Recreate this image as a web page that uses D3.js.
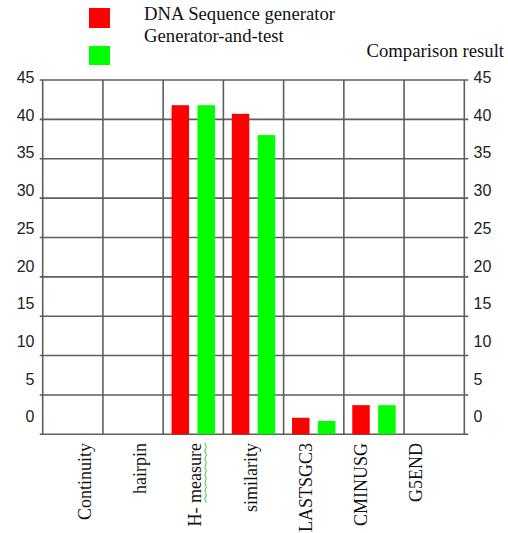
<!DOCTYPE html>
<html>
<head>
<meta charset="utf-8">
<script src="https://cdn.jsdelivr.net/npm/d3@7"></script>
<style>
  body { margin: 0; background: #fff; }
  .tick-label { font-family: "Liberation Sans", Arial, sans-serif; font-size: 16px; fill: #222; }
  .cat-label, .legend-text { font-family: "Liberation Serif", "Times New Roman", serif; fill: #111; }
</style>
</head>
<body>
<svg id="chart" width="508" height="533"></svg>
<script>
const categories = ["Continuity", "hairpin", "H- measure", "similarity", "LASTSGC3", "CMINUSG", "G5END"];
const seriesNames = ["DNA Sequence generator", "Generator-and-test"];
const dnaGenerator = [0, 0, 41.8, 40.7, 2.1, 3.7, 0];
const generatorAndTest = [0, 0, 41.8, 38.0, 1.7, 3.7, 0];
const yTicks = [0, 5, 10, 15, 20, 25, 30, 35, 40, 45];
const colors = ["#ff0000", "#00ff00"];

const svg = d3.select("svg#chart");

// plot area
const plotL = 42.7, plotR = 464.3, plotT = 80, plotB = 434.3;

const x = d3.scaleBand().domain(categories).range([plotL, plotR]).padding(0);
const sub = d3.scaleBand().domain(seriesNames).range([0, x.bandwidth()])
  .paddingInner(0.325).paddingOuter(0.325);
const y = d3.scaleLinear().domain([0, 45]).range([plotB, plotT]);

// the tick labels sit on their own (slightly tighter) scales, as in the original
const yLab = d3.scaleLinear().domain([0, 45]).range([416.7, 77.3]);
const xLab = d3.scalePoint().domain(categories).range([91, 422]);

const grid = svg.append("g");
// horizontal gridlines, with small ticks past both axes
grid.selectAll("line.h").data(yTicks).enter().append("line")
  .attr("x1", plotL - 3).attr("x2", plotR + 4)
  .attr("y1", d => y(d)).attr("y2", d => y(d))
  .attr("stroke", "#5e5e5e").attr("stroke-width", 1.6);
// vertical gridlines at band edges
const edges = categories.map(c => x(c)).concat([plotR]);
grid.selectAll("line.v").data(edges).enter().append("line")
  .attr("x1", d => d).attr("x2", d => d)
  .attr("y1", plotT).attr("y2", plotB)
  .attr("stroke", "#5e5e5e").attr("stroke-width", 1.6);

// bars
const rows = categories.map((c, i) => ({ cat: c, vals: [dnaGenerator[i], generatorAndTest[i]] }));
const groups = svg.append("g").selectAll("g").data(rows).enter().append("g")
  .attr("transform", d => "translate(" + x(d.cat) + ",0)");
groups.selectAll("rect").data(d => d.vals.map((v, k) => ({ name: seriesNames[k], v: v, k: k })))
  .enter().append("rect")
  .attr("x", d => sub(d.name))
  .attr("width", sub.bandwidth())
  .attr("y", d => y(d.v))
  .attr("height", d => plotB - y(d.v))
  .attr("fill", d => colors[d.k]);

// y tick labels, both sides
svg.append("g").selectAll("text").data(yTicks).enter().append("text")
  .attr("class", "tick-label")
  .attr("x", 34.5).attr("y", d => yLab(d))
  .attr("dy", "0.36em").attr("text-anchor", "end")
  .text(d => d);
svg.append("g").selectAll("text").data(yTicks).enter().append("text")
  .attr("class", "tick-label")
  .attr("x", 473.5).attr("y", d => yLab(d))
  .attr("dy", "0.36em").attr("text-anchor", "start")
  .text(d => d);

// category labels, rotated
svg.append("g").selectAll("text").data(categories).enter().append("text")
  .attr("class", "cat-label")
  .attr("font-size", "18px")
  .attr("text-anchor", "end")
  .attr("transform", d => "translate(" + xLab(d) + ",443) rotate(-90)")
  .text(d => d);

// spell-check squiggle under "measure"
const wave = d3.range(0, 16).map(i => [xLab("H- measure") + 3.5 + (i % 2 ? 1.5 : 0), 443 + i * 4]);
svg.append("path").attr("d", d3.line()(wave))
  .attr("fill", "none").attr("stroke", "#33bb33").attr("stroke-width", 0.9);

// legend
svg.append("rect").attr("x", 89).attr("y", 8).attr("width", 21).attr("height", 20).attr("fill", colors[0]);
svg.append("rect").attr("x", 89).attr("y", 46).attr("width", 21).attr("height", 19).attr("fill", colors[1]);
svg.append("text").attr("class", "legend-text").attr("font-size", "18.7px")
  .attr("x", 144).attr("y", 20).text(seriesNames[0]);
svg.append("text").attr("class", "legend-text").attr("font-size", "18.7px")
  .attr("x", 144).attr("y", 41.5).text(seriesNames[1]);
svg.append("text").attr("class", "legend-text").attr("font-size", "18.7px")
  .attr("x", 366.5).attr("y", 56.5).text("Comparison result");
</script>
</body>
</html>
